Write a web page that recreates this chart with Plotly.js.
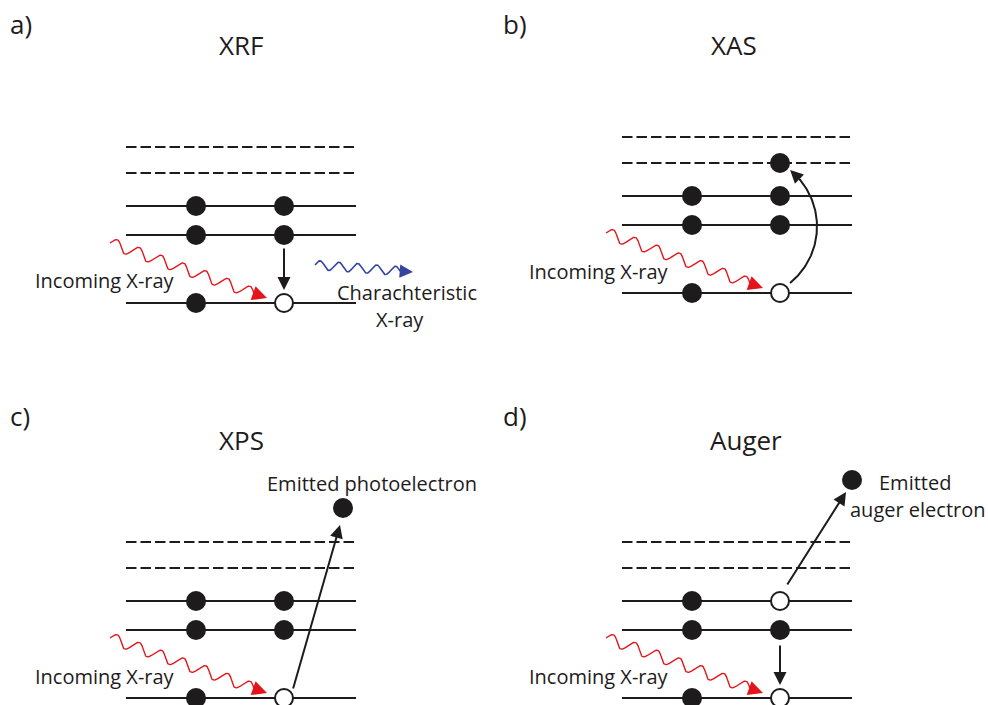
<!DOCTYPE html>
<html>
<head>
<meta charset="utf-8">
<script src="https://cdn.plot.ly/plotly-3.0.1.min.js"></script>
<style>
  html, body { margin: 0; padding: 0; background: #ffffff; }
  #chart { width: 988px; height: 705px; }
</style>
</head>
<body>
<div id="chart"></div>
<script>
// Energy-level schemes of four X-ray techniques.
// Local units per panel: x runs along a level, y is the height above the core level.

const panelLabels = ['a)', 'b)', 'c)', 'd)'];
const panelTitles = ['XRF', 'XAS', 'XPS', 'Auger'];

// Levels shared by every panel: core level, two occupied shells, two empty states
const levelEnergies = [0, 68, 97, 130, 156];
const levelKinds = ['occupied', 'occupied', 'occupied', 'empty', 'empty'];
const levelSpan = [0, 230];

// Electrons (filled circles) per panel
const electronsX = [
  [70, 70, 70, 158, 158],
  [70, 70, 70, 158, 158, 158],
  [70, 70, 70, 158, 158, 217],
  [70, 70, 70, 158, 230]
];
const electronsE = [
  [0, 68, 97, 68, 97],
  [0, 68, 97, 68, 97, 130],
  [0, 68, 97, 68, 97, 190],
  [0, 68, 97, 68, 218]
];

// Holes (open circles) per panel
const holesX = [[158], [158], [158], [158, 158]];
const holesE = [[0], [0], [0], [0, 97]];

// Straight electron transitions per panel: from (x, E) to (x, E)
const transFromX = [[158], [], [167], [158, 165]];
const transFromE = [[55], [], [9], [53, 113]];
const transToX = [[158], [], [214], [158, 224]];
const transToE = [[13], [], [173], [13, 206]];

// Curved excitation in XAS: start angle, end angle (deg), centre and radius
const arcCentre = [122.4, 66.5];
const arcRadius = 72.6;
const arcAngles = [-51, 51];

// Incoming photon (all panels) and the emitted characteristic photon (XRF)
const incomingStart = [-16, 60];
const incomingTip = [141, 5];
const emittedStart = [189, 38];
const emittedTip = [287, 31];

// Text labels: panel index, text, x, E, horizontal anchor
const labelPanel = [0, 1, 2, 3, 0, 0, 2, 3, 3];
const labelText = ['Incoming X-ray', 'Incoming X-ray', 'Incoming X-ray', 'Incoming X-ray',
  'Charachteristic', 'X-ray', 'Emitted photoelectron', 'Emitted', 'auger electron'];
const labelX = [-93, -95, -93, -95, 281, 273.5, 245.5, 255, 226];
const labelE = [23, 22, 22, 22, 11, -16, 215, 216, 189];
const labelAnchor = ['left', 'left', 'left', 'left', 'center', 'center', 'center', 'left', 'left'];

// Title positions (centre) per panel
const titleX = [115, 112, 115, 124];
const titleE = [258, 248, 258, 258];

// ---- drawing ----
const INK = '#1e1b1c';
const RED = '#e3141b';
const BLUE = '#34449f';
const FONT = 'Open Sans, Noto Sans, sans-serif';

const suffix = ['', '2', '3', '4'];
const xDomains = [[0, 0.5], [0.5, 1], [0, 0.5], [0.5, 1]];
const ySplit = 353 / 705;
const yDomains = [[ySplit, 1], [ySplit, 1], [0, ySplit], [0, ySplit]];
const xRanges = [[-126, 368], [-128, 366], [-126, 368], [-128, 366]];
const yRanges = [[-49, 303], [-59, 293], [-7, 346], [-7, 346]];
const labelPos = [[8, 24], [501, 24], [8, 416], [501, 416]];

// wavy photon path ending a head-length before the tip
function wave(start, tip, headLen, periods, amp) {
  const dx = tip[0] - start[0], dy = tip[1] - start[1];
  const len = Math.hypot(dx, dy);
  const ux = dx / len, uy = dy / len, nx = -uy, ny = ux;
  const body = len - headLen;
  const lambda = body / periods;
  const xs = [], ys = [];
  const n = 300;
  for (let k = 0; k <= n; k++) {
    const s = body * k / n;
    const w = amp * Math.sin(2 * Math.PI * s / lambda);
    xs.push(start[0] + ux * s + nx * w);
    ys.push(start[1] + uy * s + ny * w);
  }
  return { xs, ys, endX: start[0] + ux * body, endY: start[1] + uy * body };
}

function headOnly(xa, ya, tipX, tipY, tailX, tailY, color, width, size) {
  return {
    xref: xa, yref: ya, axref: xa, ayref: ya,
    x: tipX, y: tipY, ax: tailX, ay: tailY,
    text: '', font: { size: 1 }, borderpad: 0,
    showarrow: true, arrowhead: 2, arrowcolor: color,
    arrowwidth: width, arrowsize: size, standoff: 0
  };
}

const traces = [];
const annotations = [];
const layout = {
  width: 988, height: 705,
  margin: { l: 0, r: 0, t: 0, b: 0 },
  paper_bgcolor: '#ffffff', plot_bgcolor: 'rgba(0,0,0,0)',
  showlegend: false, hovermode: false
};

for (let p = 0; p < 4; p++) {
  const xa = 'x' + suffix[p], ya = 'y' + suffix[p];
  layout['xaxis' + suffix[p]] = {
    domain: xDomains[p], range: xRanges[p], visible: false, fixedrange: true,
    anchor: ya
  };
  layout['yaxis' + suffix[p]] = {
    domain: yDomains[p], range: yRanges[p], visible: false, fixedrange: true,
    anchor: xa
  };

  // energy levels
  levelEnergies.forEach((e, k) => {
    traces.push({
      type: 'scatter', mode: 'lines', xaxis: xa, yaxis: ya,
      x: levelSpan, y: [e, e],
      line: { color: INK, width: 2, dash: levelKinds[k] === 'empty' ? '10.5px,4px' : 'solid' }
    });
  });

  // incoming photon
  const w = wave(incomingStart, incomingTip, 14, 6.5, 5.5);
  traces.push({
    type: 'scatter', mode: 'lines', xaxis: xa, yaxis: ya,
    x: w.xs, y: w.ys, line: { color: RED, width: 1.4 }, cliponaxis: false
  });
  annotations.push(headOnly(xa, ya, incomingTip[0], incomingTip[1], w.endX, w.endY, RED, 1.4, 2.1));

  // XAS curved excitation
  if (p === 1) {
    const ax = [], ay = [];
    const stopAngle = arcAngles[1] - 10;
    for (let k = 0; k <= 80; k++) {
      const t = (arcAngles[0] + (stopAngle - arcAngles[0]) * k / 80) * Math.PI / 180;
      ax.push(arcCentre[0] + arcRadius * Math.cos(t));
      ay.push(arcCentre[1] + arcRadius * Math.sin(t));
    }
    traces.push({
      type: 'scatter', mode: 'lines', xaxis: xa, yaxis: ya,
      x: ax, y: ay, line: { color: INK, width: 2 }
    });
    const tEnd = arcAngles[1] * Math.PI / 180;
    annotations.push(headOnly(xa, ya,
      arcCentre[0] + arcRadius * Math.cos(tEnd), arcCentre[1] + arcRadius * Math.sin(tEnd),
      ax[ax.length - 1], ay[ay.length - 1], INK, 2, 1.3));
  }

  // XRF emitted photon
  if (p === 0) {
    const b = wave(emittedStart, emittedTip, 13, 4.5, 4.5);
    traces.push({
      type: 'scatter', mode: 'lines', xaxis: xa, yaxis: ya,
      x: b.xs, y: b.ys, line: { color: BLUE, width: 1.6 }, cliponaxis: false
    });
    annotations.push(headOnly(xa, ya, emittedTip[0], emittedTip[1], b.endX, b.endY, BLUE, 1.4, 1.9));
  }

  // electrons and holes
  traces.push({
    type: 'scatter', mode: 'markers', xaxis: xa, yaxis: ya,
    x: electronsX[p], y: electronsE[p], cliponaxis: false,
    marker: { size: 20, color: INK, line: { width: 0 } }
  });
  traces.push({
    type: 'scatter', mode: 'markers', xaxis: xa, yaxis: ya,
    x: holesX[p], y: holesE[p], cliponaxis: false,
    marker: { size: 18, color: '#ffffff', line: { width: 2, color: INK } }
  });

  // straight transitions
  transFromX[p].forEach((fx, k) => {
    annotations.push(headOnly(xa, ya, transToX[p][k], transToE[p][k], fx, transFromE[p][k], INK, 2, 1.3));
  });

  // title
  annotations.push({
    xref: xa, yref: ya, x: titleX[p], y: titleE[p],
    text: panelTitles[p], showarrow: false, xanchor: 'center', yanchor: 'middle',
    font: { family: FONT, size: 26, color: INK }
  });

  // panel letter
  annotations.push({
    xref: 'paper', yref: 'paper', x: labelPos[p][0] / 988, y: 1 - labelPos[p][1] / 705,
    text: panelLabels[p], showarrow: false, xanchor: 'left', yanchor: 'middle',
    font: { family: FONT, size: 26, color: INK }
  });
}

// text labels
labelText.forEach((t, k) => {
  const p = labelPanel[k];
  annotations.push({
    xref: 'x' + suffix[p], yref: 'y' + suffix[p], x: labelX[k], y: labelE[k],
    text: t, showarrow: false, xanchor: labelAnchor[k], yanchor: 'middle',
    font: { family: FONT, size: 20, color: INK }
  });
});

layout.annotations = annotations;

Plotly.newPlot('chart', traces, layout, { staticPlot: true, displayModeBar: false });
</script>
</body>
</html>
